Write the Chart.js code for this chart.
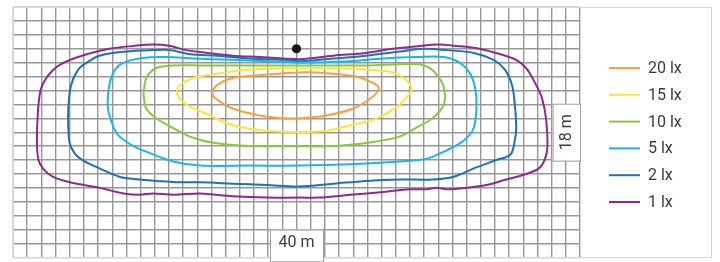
<!DOCTYPE html>
<html>
<head>
<meta charset="utf-8">
<script src="https://cdn.jsdelivr.net/npm/chart.js@4.4.1/dist/chart.umd.min.js"></script>
<style>
  html, body { margin: 0; padding: 0; background: #fff; }
</style>
</head>
<body>
<canvas id="myChart" width="720" height="262"></canvas>
<script>
// field size in metres
const fieldWidth = 40;
const fieldHeight = 18;
const widthLabel = "40 m";
const heightLabel = "18 m";

const levels = ["20 lx", "15 lx", "10 lx", "5 lx", "2 lx", "1 lx"];
const lineColors = ["#f6a040", "#fde43a", "#8dc63f", "#1db4ea", "#1f70b5", "#8b2b8e"];

// light position
const lampX = [20];
const lampY = [15.0];

// isolux contours (x, y in metres, y measured from the bottom)
const x20 = [14.0,14.4,15.5,17.4,20.2,22.6,24.2,25.5,25.8,25.3,24.0,22.1,20.2,19.1,17.4,15.5,14.2,14.0];
const y20 = [11.9,12.4,12.9,13.1,13.3,13.2,13.0,12.5,12.1,11.5,10.7,10.2,10.0,10.0,10.2,10.7,11.5,11.9];

const x15 = [11.6,11.9,12.7,14.4,16.7,20.2,22.6,24.9,26.8,27.8,28.1,28.0,27.3,25.7,23.8,22.1,20.2,17.9,15.5,13.7,12.2,11.6,11.6];
const y15 = [12.2,12.5,12.9,13.2,13.5,13.6,13.6,13.5,13.3,12.7,12.2,11.8,11.0,10.0,9.5,9.1,9.0,9.1,9.5,10.3,11.0,11.7,12.2];

const x10 = [9.2,9.4,9.9,10.4,11.3,13.2,16.7,20.2,24.9,28.5,29.4,30.0,30.4,30.4,29.6,28.4,27.3,25.4,22.6,20.2,16.7,14.4,12.7,11.3,10.1,9.4,9.2];
const y10 = [11.7,12.9,13.5,13.7,13.8,13.8,13.8,13.8,13.8,13.9,13.6,13.0,12.2,11.0,10.0,9.3,8.7,8.3,8.0,8.0,8.0,8.2,8.6,9.3,10.0,10.7,11.7];

const x5 = [7.1,6.7,6.8,7.2,7.8,8.9,10.8,12.7,15.5,17.9,20.2,23.8,26.1,28.5,30.4,31.5,32.2,32.6,32.7,32.5,31.8,30.6,29.2,27.3,23.8,20.2,16.7,13.2,11.3,9.4,8.5,7.5,7.1];
const y5 = [9.3,10.7,12.4,13.5,14.0,14.3,14.4,14.3,14.2,14.1,14.0,14.1,14.3,14.4,14.4,14.0,13.3,12.2,11.0,9.3,8.4,7.7,7.1,6.9,6.7,6.6,6.6,6.6,6.9,7.6,8.0,8.7,9.3];

const x2 = [3.9,3.9,4.1,4.6,5.2,6.1,8.0,9.9,11.1,12.5,14.4,16.7,19.1,20.2,22.6,24.9,27.3,28.9,30.6,32.5,33.9,34.7,35.2,35.4,35.5,35.4,35.1,34.1,32.5,31.1,29.6,27.3,24.9,22.6,20.2,17.9,15.5,13.2,11.5,10.1,8.9,7.5,6.1,4.9,4.4,4.0,3.9];
const y2 = [9.3,10.7,12.4,13.5,14.0,14.5,14.8,14.9,14.9,14.6,14.5,14.3,14.2,14.1,14.3,14.5,14.8,15.0,14.9,14.7,14.2,13.5,12.4,11.0,9.3,8.4,7.4,7.0,6.4,5.8,5.6,5.6,5.5,5.3,5.1,5.2,5.3,5.4,5.4,5.5,5.6,5.8,6.4,7.0,7.4,8.2,9.3];

const x1 = [1.7,1.8,2.0,2.5,3.1,3.8,5.2,6.8,8.5,9.9,11.1,12.2,13.7,15.5,17.4,19.1,20.2,22.6,24.9,26.8,28.7,29.9,31.3,32.9,34.4,35.5,36.2,36.8,37.3,37.6,37.7,37.5,37.1,36.2,34.8,33.4,32.0,30.6,29.9,29.2,28.0,26.1,23.8,21.6,20.2,17.9,15.5,13.2,11.3,9.9,8.9,7.8,6.1,4.0,2.8,2.1,1.8,1.7,1.7];
const y1 = [9.3,11.0,12.2,13.1,13.7,14.1,14.6,15.0,15.2,15.3,15.2,14.9,14.7,14.5,14.4,14.3,14.25,14.5,14.7,15.0,15.2,15.3,15.2,15.0,14.6,14.2,13.6,12.6,11.5,10.0,7.9,7.0,6.4,6.0,5.6,5.2,5.0,4.9,5.0,4.9,4.9,4.7,4.5,4.3,4.3,4.3,4.4,4.6,4.5,4.6,4.5,4.6,5.0,5.4,5.8,6.4,7.0,7.9,9.3];

const contourX = [x20, x15, x10, x5, x2, x1];
const contourY = [y20, y15, y10, y5, y2, y1];

function toPoints(xs, ys) {
    return xs.map((v, i) => ({ x: v, y: ys[i] }));
}

const datasets = [{
    label: "lamp",
    data: toPoints(lampX, lampY),
    showLine: false,
    pointRadius: 4.6,
    backgroundColor: "#151515",
    borderWidth: 0
}];
levels.forEach((name, i) => {
    datasets.push({
        label: name,
        data: toPoints(contourX[i], contourY[i]),
        showLine: true,
        borderColor: lineColors[i],
        backgroundColor: lineColors[i],
        borderWidth: 2,
        pointRadius: 0,
        tension: 0.35,
        fill: false
    });
});

const font = "Roboto, 'Open Sans', sans-serif";

const extras = {
    id: "extras",
    beforeDraw(chart) {
        const ctx = chart.ctx;
        ctx.save();
        ctx.fillStyle = "#fff";
        ctx.fillRect(0, 0, chart.width, chart.height);
        ctx.restore();
    },
    afterDatasetsDraw(chart) {
        const ctx = chart.ctx;
        const a = chart.chartArea;
        const x = chart.scales.x;
        const y = chart.scales.y;
        ctx.save();

        // outer frame
        ctx.strokeStyle = "#d6d6d6";
        ctx.lineWidth = 1;
        ctx.strokeRect(a.left + 0.5, a.top + 0.5, a.right + 131 - a.left, a.bottom - a.top - 0.5);

        // dimension boxes
        ctx.fillStyle = "#fff";
        ctx.strokeStyle = "#a0a0a0";
        const bx = x.getPixelForValue(fieldWidth / 2);
        const bTop = y.getPixelForValue(2);
        ctx.fillRect(bx - 26.5, bTop, 53, a.bottom - bTop + 2);
        ctx.strokeRect(bx - 26.5 + 0.5, bTop + 0.5, 53, a.bottom - bTop + 4);

        const rLeft = x.getPixelForValue(fieldWidth - 1.93);
        const ry = y.getPixelForValue(9);
        ctx.fillRect(rLeft, ry - 28.5, a.right - rLeft, 57);
        ctx.strokeRect(rLeft + 0.5, ry - 28.5 + 0.5, a.right - rLeft, 57);

        ctx.fillStyle = "#3a3a3a";
        ctx.font = "16px " + font;
        ctx.textAlign = "center";
        ctx.textBaseline = "middle";
        ctx.fillText(widthLabel, bx, bTop + 13.5);

        ctx.translate((rLeft + a.right) / 2 + 1, ry);
        ctx.rotate(-Math.PI / 2);
        ctx.fillText(heightLabel, 0, 0);
        ctx.setTransform(1, 0, 0, 1, 0, 0);

        // legend
        ctx.textAlign = "left";
        ctx.font = "16px " + font;
        levels.forEach((name, i) => {
            const ly = a.top + 61 + i * 26.8;
            ctx.strokeStyle = lineColors[i];
            ctx.lineWidth = 2;
            ctx.beginPath();
            ctx.moveTo(a.right + 29, ly);
            ctx.lineTo(a.right + 60, ly);
            ctx.stroke();
            ctx.fillStyle = "#3a3a3a";
            ctx.fillText(name, a.right + 68, ly + 1);
        });
        ctx.restore();
    }
};

function gridColor(edgeValues) {
    return (c) => (c.tick && edgeValues.includes(c.tick.value)) ? "#d6d6d6" : "#979797";
}

new Chart("myChart", {
    type: "scatter",
    data: { datasets: datasets },
    options: {
        responsive: false,
        animation: false,
        layout: { padding: { left: 13, right: 140, top: 7, bottom: 1 } },
        plugins: {
            legend: { display: false },
            tooltip: { enabled: false }
        },
        scales: {
            x: {
                type: "linear",
                min: 0,
                max: fieldWidth,
                ticks: { display: false, stepSize: 1 },
                grid: { color: gridColor([0]), lineWidth: 1.4, drawTicks: false },
                border: { display: false },
                afterFit: (s) => { s.height = 0; }
            },
            y: {
                type: "linear",
                min: 0,
                max: fieldHeight,
                ticks: { display: false, stepSize: 1 },
                grid: { color: gridColor([0, fieldHeight]), lineWidth: 1.4, drawTicks: false },
                border: { display: false },
                afterFit: (s) => { s.width = 0; }
            }
        }
    },
    plugins: [extras]
});
</script>
</body>
</html>
